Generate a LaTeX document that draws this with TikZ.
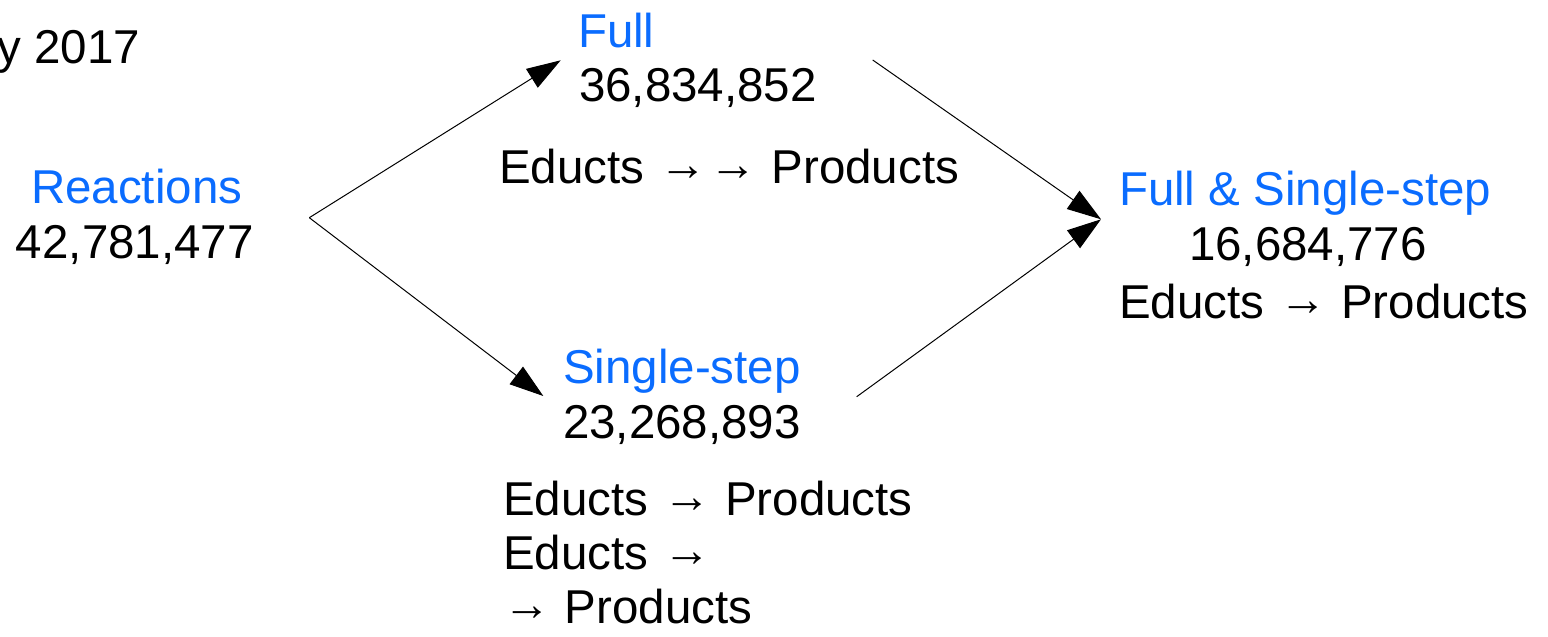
\documentclass[tikz,border=0pt]{standalone}
\usepackage{fontspec}
\setmainfont{Liberation Sans}
\usetikzlibrary{arrows.meta}
\definecolor{labelblue}{RGB}{10,108,255}
% reaction arrow set a little higher than the font places it
\newcommand\rxnarrow{\kern2pt\raisebox{3pt}{→}\kern1pt}
\begin{document}
\begin{tikzpicture}[x=1pt,y=-1pt,
  txt/.style={inner sep=0pt, outer sep=0pt, anchor=base west,
              font=\fontsize{47.5}{57}\selectfont},
  title/.style={txt, text=labelblue},
  link/.style={line width=1pt, -{Triangle[length=34pt,width=22pt]}}]
\useasboundingbox (0,0) rectangle (1548,637);

% header
\node[txt, anchor=base east] (date) at (140,63.3) {y 2017};

% all reactions
\node[title] (reac)  at (31,203.3) {Reactions};
\node[txt]   (reacN) at (16,258.3) {42,781,477};

% full reactions
\node[title] (full)  at (578,47.7) {Full};
\node[txt]   (fullN) at (579,101) {36,834,852};
\node[txt]   (fullR) at (499,183.3) {Educts \rxnarrow\rxnarrow{} Products};

% single-step reactions
\node[title] (single)  at (563,383.3) {Single-step};
\node[txt]   (singleN) at (563,438.3) {23,268,893};
\node[txt]   (sr1) at (503,515) {Educts \rxnarrow{} Products};
\node[txt]   (sr2) at (503,569.3) {Educts \rxnarrow};
\node[txt]   (sr3) at (501,623.3) {\rxnarrow{} Products};

% intersection
\node[title] (both)  at (1119,205) {Full \& Single-step};
\node[txt]   (bothN) at (1189,260) {16,684,776};
\node[txt]   (bothR) at (1119,318.3) {Educts \rxnarrow{} Products};

% connector end points
\coordinate (fork)      at (309.3,217.7);
\coordinate (fullIn)    at (560.7,60.3);
\coordinate (singleIn)  at (543.3,396);
\coordinate (fullOut)   at (872.7,60);
\coordinate (singleOut) at (856.7,396.7);
\coordinate (bothIn)    at (1101,219.3);

\draw[link] (fork) -- (fullIn);
\draw[link] (fork) -- (singleIn);
\draw[link] (fullOut) -- (bothIn);
\draw[link] (singleOut) -- (bothIn);
\end{tikzpicture}
\end{document}
